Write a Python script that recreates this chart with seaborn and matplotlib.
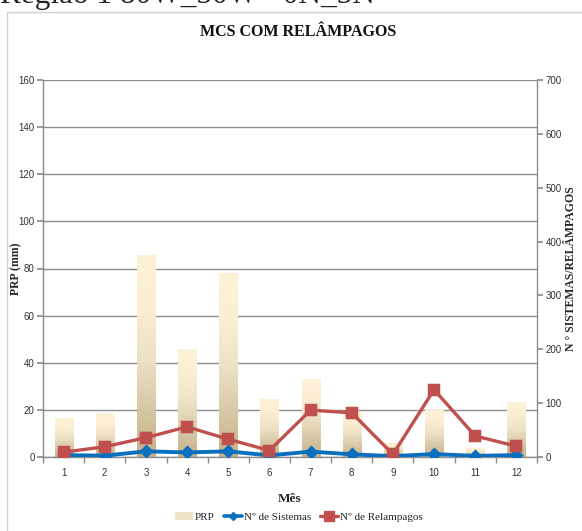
"""
MCS com relampagos: precipitacao mensal (barras) e numero de sistemas /
relampagos (linhas, eixo da direita).
"""

import numpy as np
import pandas as pd
import matplotlib
matplotlib.use("Agg")
import matplotlib.pyplot as plt
from matplotlib.colors import LinearSegmentedColormap
from matplotlib.lines import Line2D
from matplotlib.patches import Rectangle
import seaborn as sns

# data
meses = ["1", "2", "3", "4", "5", "6", "7", "8", "9", "10", "11", "12"]
prp = [16.5, 18.8, 85.7, 45.8, 78.0, 24.8, 33.2, 19.5, 6.0, 20.0, 3.8, 23.4]
n_sistemas = [3.5, 2.5, 10.5, 8.5, 10.5, 3.0, 10.0, 5.0, 1.5, 5.5, 2.0, 3.5]
n_relampagos = [9, 19, 36, 56, 33, 12, 87, 82, 5, 125, 39, 20]

left_ticks = list(range(0, 161, 20))
right_ticks = list(range(0, 701, 100))

titulo = "MCS COM RELÂMPAGOS"
cabecalho = "Região 1 80W_50W - 0N_5N"

df = pd.DataFrame({"Mes": meses, "PRP": prp,
                   "Sistemas": n_sistemas, "Relampagos": n_relampagos})

sns.set_theme(style="white")
serif = ["Liberation Serif", "DejaVu Serif"]
narrow = ["Liberation Sans Narrow", "Liberation Sans", "DejaVu Sans"]
plt.rcParams["font.family"] = narrow

BLUE = "#0B6FC0"
RED = "#C0504D"
GRID = "#8C8C8C"

fig = plt.figure(figsize=(5.82, 5.31), dpi=100)
ax = fig.add_axes([43 / 582, 1 - 457 / 531, (537 - 43) / 582, (457 - 80) / 531])

# frame around chart area
fig.patches.append(Rectangle((7 / 582, -0.01), 1.0, 1 - 12 / 531 + 0.01,
                             transform=fig.transFigure, fill=False,
                             edgecolor="#D0D0D0", linewidth=1.0))
# header of the page, cut off by the top edge
fig.text(0.0, 1 - 3 / 531, cabecalho, family=serif, fontsize=22.5,
         va="baseline", ha="left", color="#222222")

sns.barplot(data=df, x="Mes", y="PRP", ax=ax, width=0.44,
            color="#F3E6C8", edgecolor="none", zorder=2)

# gradient fill inside each bar
cmap = LinearSegmentedColormap.from_list(
    "prp", ["#C2B08A", "#D8C9A6", "#EEE2C6", "#FBEED3", "#FDF1D8"])
grad = np.linspace(0, 1, 256).reshape(-1, 1)
for bar in ax.patches:
    x0, y0 = bar.get_x(), bar.get_y()
    w, h = bar.get_width(), bar.get_height()
    bar.set_facecolor("none")
    im = ax.imshow(grad, extent=[x0, x0 + w, y0, y0 + h], origin="lower",
                   cmap=cmap, aspect="auto", zorder=2, interpolation="bicubic")
    im.set_clip_path(bar)

ax.set_xlim(-0.5, len(meses) - 0.5)
ax.set_ylim(0, 160)
ax.set_yticks(left_ticks)
ax.yaxis.grid(True, color=GRID, linewidth=1.0)
ax.set_axisbelow(True)

ax2 = ax.twinx()
sns.pointplot(data=df, x="Mes", y="Sistemas", ax=ax2, color=BLUE,
              markers="D", markersize=5, linewidth=2.8, errorbar=None)
sns.pointplot(data=df, x="Mes", y="Relampagos", ax=ax2, color=RED,
              markers="s", markersize=7.5, linewidth=2.4, errorbar=None)
ax2.set_ylim(0, 700)
ax2.set_yticks(right_ticks)
ax2.set_xlim(-0.5, len(meses) - 0.5)

for a in (ax, ax2):
    for s in a.spines.values():
        s.set_visible(False)
    a.set_xlabel("")
    a.set_ylabel("")
ax.spines["left"].set_visible(True)
ax.spines["bottom"].set_visible(True)
ax2.spines["right"].set_visible(True)
for s in (ax.spines["left"], ax.spines["bottom"], ax2.spines["right"]):
    s.set_color(GRID)
    s.set_linewidth(1.0)

ax.tick_params(axis="y", left=True, length=4, color=GRID, labelsize=7,
               labelcolor="#333333", pad=2)
ax2.tick_params(axis="y", right=True, length=4, color=GRID, labelsize=7,
                labelcolor="#333333", pad=2)
ax.set_xticks(range(len(meses)))
ax.set_xticklabels(meses)
ax.set_xticks(np.arange(-0.5, len(meses), 1.0), minor=True)
ax.tick_params(axis="x", which="major", bottom=False, length=0, labelsize=7,
               labelcolor="#333333", pad=8)
ax.tick_params(axis="x", which="minor", bottom=True, length=4, color=GRID)

fig.text(298 / 582, 1 - 32 / 531, titulo, family=serif, fontsize=11.5,
         fontweight="bold", color="#111111", ha="center", va="center")
ax.set_xlabel("Mês", family=serif, fontsize=9.5, fontweight="bold")
ax.xaxis.set_label_coords(0.5, -(493 - 457) / 377, transform=ax.transAxes)
ax.set_ylabel("PRP (mm)", family=serif, fontsize=8.5, fontweight="bold")
ax.yaxis.set_label_coords(-(43 - 22) / 494, 0.5)
ax2.set_ylabel("N ° SISTEMAS/RELÂMPAGOS", family=serif, fontsize=8.5,
               fontweight="bold", rotation=90, va="center")
ax2.yaxis.set_label_coords(1 + (571 - 537) / 494, 0.5)

handles = [
    Rectangle((0, 0), 1, 1, facecolor="#EFE3C7", edgecolor="none"),
    Line2D([], [], color=BLUE, marker="D", markersize=4.5, linewidth=2.6),
    Line2D([], [], color=RED, marker="s", markersize=6.5, linewidth=2.4),
]
labels = ["PRP", "Nº de Sistemas", "Nº de Relampagos"]
fig.legend(handles, labels, loc="center", bbox_to_anchor=(299 / 582, 1 - 517 / 531),
           ncol=3, frameon=False, prop={"family": serif, "size": 8},
           handlelength=1.6, handletextpad=0.2, columnspacing=0.8)

fig.savefig("out.png", dpi=100)
